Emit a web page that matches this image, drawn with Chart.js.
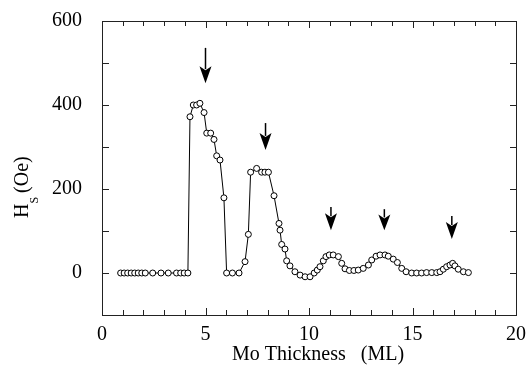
<!DOCTYPE html>
<html>
<head>
<meta charset="utf-8">
<script src="https://cdn.jsdelivr.net/npm/chart.js@4.4.1/dist/chart.umd.min.js"></script>
<style>
html,body{margin:0;padding:0;background:#fff;}
canvas{display:block;}
</style>
</head>
<body>
<canvas id="c" width="528" height="367"></canvas>
<script>
// Mo thickness (ML)
const thickness = [
  0.9,1.07,1.24,1.41,1.58,1.75,1.92,2.09,2.45,2.85,3.2,3.6,3.8,3.97,4.15,
  4.25,4.41,4.57,4.73,4.93,5.06,5.25,5.41,5.54,5.70,5.89,
  6.02,6.3,6.62,6.91,7.07,7.18,7.47,7.71,7.87,8.04,8.31,8.55,8.60,8.68,8.84,8.92,
  9.08,9.32,9.57,9.81,10.05,10.25,10.4,10.53,10.69,10.82,10.98,11.17,11.42,11.58,11.74,
  11.95,12.17,12.38,12.62,12.87,13.03,13.24,13.43,13.67,13.83,14.07,14.27,14.48,14.69,
  14.96,15.2,15.44,15.68,15.93,16.17,16.33,16.49,16.65,16.81,16.94,17.05,17.21,17.46,17.70
];
// Saturation field Hs (Oe)
const hs = [
  0,0,0,0,0,0,0,0,0,0,0,0,0,0,0,
  372,400,400,404,382,333,333,318,279,269,179,
  0,0,0,27,92,240,249,240,240,240,184,118,102,68,57,29,
  17,3,-5,-9,-9,0,7,15,29,39,43,43,39,23,10,
  6,6,7,11,19,31,40,43,43,40,33,25,11,3,
  0,0,0,1,1,1,3,9,15,19,23,17,9,3,1
];
// Arrow annotations: x position, top and tip of arrow (Oe)
const arrowX   = [5.0, 7.9, 11.06, 13.64, 16.9];
const arrowTop = [536, 357, 157, 152, 136];
const arrowTip = [452, 293, 102, 102, 81];

const xTickLabels = [0, 5, 10, 15, 20];
const yTickLabels = [0, 200, 400, 600];

const FONT = '"Liberation Serif", "Times New Roman", serif';

const framePlugin = {
  id: 'frame',
  afterDraw(chart) {
    const ctx = chart.ctx;
    const a = chart.chartArea;
    const xs = chart.scales.x, ys = chart.scales.y;
    ctx.save();
    ctx.strokeStyle = '#222';
    ctx.lineWidth = 1;
    ctx.strokeRect(Math.round(a.left) + 0.5, Math.round(a.top) + 0.5,
                   Math.round(a.right - a.left), Math.round(a.bottom - a.top));
    ctx.beginPath();
    xs.ticks.forEach(t => {
      const px = Math.round(xs.getPixelForValue(t.value)) + 0.5;
      const len = (t.value % 5 === 0) ? 7 : 5;
      ctx.moveTo(px, a.bottom); ctx.lineTo(px, a.bottom - len);
      ctx.moveTo(px, a.top); ctx.lineTo(px, a.top + len);
    });
    ys.ticks.forEach(t => {
      const py = Math.round(ys.getPixelForValue(t.value)) + 0.5;
      ctx.moveTo(a.left, py); ctx.lineTo(a.left + 7, py);
      ctx.moveTo(a.right, py); ctx.lineTo(a.right - 6, py);
    });
    ctx.stroke();

    // arrows
    ctx.fillStyle = '#000';
    ctx.strokeStyle = '#000';
    for (let i = 0; i < arrowX.length; i++) {
      const px = xs.getPixelForValue(arrowX[i]);
      const top = ys.getPixelForValue(arrowTop[i]);
      const tip = ys.getPixelForValue(arrowTip[i]);
      const headLen = Math.min(17, (tip - top) * 0.75);
      const hs0 = tip - headLen;
      ctx.lineWidth = 1.5;
      ctx.beginPath();
      ctx.moveTo(px, top); ctx.lineTo(px, hs0 + 3);
      ctx.stroke();
      ctx.beginPath();
      ctx.moveTo(px, tip);
      ctx.lineTo(px - 6, hs0);
      ctx.lineTo(px, hs0 + 4);
      ctx.lineTo(px + 6, hs0);
      ctx.closePath();
      ctx.fill();
    }

    // axis titles
    ctx.fillStyle = '#000';
    ctx.font = '20px ' + FONT;
    ctx.textAlign = 'center';
    ctx.textBaseline = 'middle';
    ctx.fillText('Mo Thickness   (ML)', 318, 355);

    ctx.translate(28, 218);
    ctx.rotate(-Math.PI / 2);
    ctx.textAlign = 'left';
    ctx.textBaseline = 'alphabetic';
    ctx.font = '20px ' + FONT;
    ctx.fillText('H', 0, 0);
    let w = ctx.measureText('H').width;
    ctx.font = '12px ' + FONT;
    ctx.fillText('S', w, 10);
    w += ctx.measureText('S').width + 4;
    ctx.font = '20px ' + FONT;
    ctx.fillText('(Oe)', w, 0);
    ctx.restore();
  }
};

new Chart(document.getElementById('c'), {
  type: 'scatter',
  data: {
    datasets: [{
      data: thickness.map((x, i) => ({x: x, y: hs[i]})),
      showLine: true,
      borderColor: '#000',
      borderWidth: 1,
      pointRadius: 3,
      pointBorderWidth: 1,
      pointBorderColor: '#000',
      pointBackgroundColor: '#fff',
      tension: 0
    }]
  },
  options: {
    responsive: false,
    animation: false,
    layout: {padding: {left: 0, right: 12, top: 21, bottom: 0}},
    plugins: {legend: {display: false}, tooltip: {enabled: false}},
    scales: {
      x: {
        type: 'linear', min: 0, max: 20,
        grid: {display: false, drawTicks: false},
        border: {display: false},
        ticks: {
          stepSize: 1, autoSkip: false, maxRotation: 0, padding: 8,
          color: '#000', font: {family: FONT, size: 20},
          callback: v => xTickLabels.includes(v) ? String(v) : ''
        },
        afterFit: s => { s.height = 52; s.paddingLeft = 0; s.paddingRight = 0; }
      },
      y: {
        type: 'linear', min: -100, max: 600,
        grid: {display: false, drawTicks: false},
        border: {display: false},
        ticks: {
          stepSize: 100, autoSkip: false, padding: 20,
          color: '#000', font: {family: FONT, size: 20},
          callback: v => yTickLabels.includes(v) ? String(v) : ''
        },
        afterFit: s => { s.width = 102; s.paddingTop = 0; s.paddingBottom = 0; }
      }
    }
  },
  plugins: [framePlugin]
});
</script>
</body>
</html>
